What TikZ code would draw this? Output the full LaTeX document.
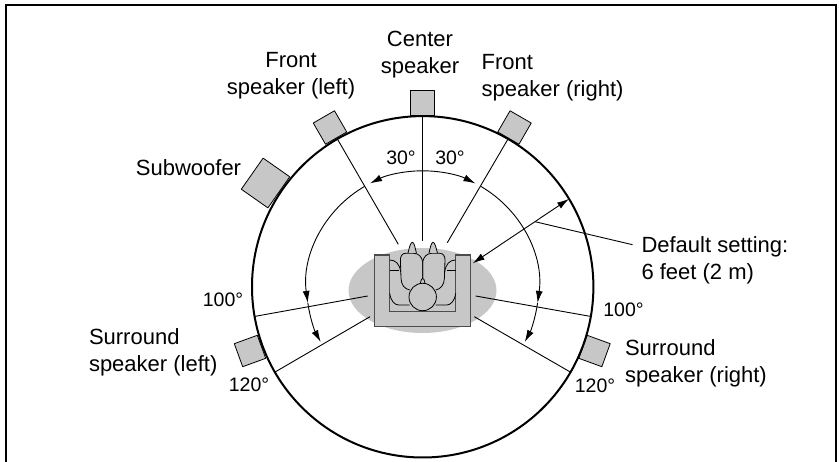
\documentclass[tikz,border=0pt]{standalone}
\usepackage{fontspec}
\setmainfont{Liberation Sans}
\usetikzlibrary{shapes.geometric,arrows.meta}
\definecolor{speakergray}{gray}{0.78}
\definecolor{sofaline}{gray}{0.3}
\tikzset{
  speaker/.style={draw,fill=speakergray,line width=0.8bp,minimum width=24.5bp,minimum height=24.5bp,inner sep=0pt,outer sep=0pt},
  label/.style={inner sep=0pt,outer sep=0pt,align=left,font=\fontsize{22bp}{27bp}\selectfont},
  angle/.style={inner sep=0pt,outer sep=0pt,font=\fontsize{19.5bp}{24bp}\selectfont},
  ray/.style={line width=0.9bp},
  sweep/.style={line width=0.9bp,->},
}
\begin{document}
\begin{tikzpicture}[>={Latex[length=12bp,width=7bp]},line join=bevel]
  \useasboundingbox (0bp,0bp) rectangle (839bp,462bp);
  % Frame
  \coordinate (FrameA) at (6bp,0bp);
  \coordinate (FrameB) at (6bp,457bp);
  \coordinate (FrameC) at (836bp,457bp);
  \coordinate (FrameD) at (836bp,0bp);
  \draw [line width=2.6bp,line join=miter] (FrameA) -- (FrameB) -- (FrameC) -- (FrameD);
  % Node: Area
  \node [ellipse,fill=speakergray,minimum width=148bp,minimum height=85bp,inner sep=0pt] (Area) at (422.5bp,171.5bp) {};
  % Node: Speakers
  \node [speaker] (Center) at (422.5bp,359bp) {};
  \node [speaker,rotate=30] (FrontLeft) at (330bp,334.5bp) {};
  \node [speaker,rotate=-30] (FrontRight) at (514.5bp,334.5bp) {};
  \node [speaker,rotate=55,minimum width=38bp,minimum height=32.5bp] (Subwoofer) at (265.5bp,279bp) {};
  \node [speaker,rotate=110] (SurroundLeft) at (250bp,111bp) {};
  \node [speaker,rotate=-110] (SurroundRight) at (594.5bp,111bp) {};
  % Node: Room
  \node [circle,draw,line width=2bp,minimum size=341.4bp,inner sep=0pt,outer sep=0pt] (Room) at (422.7bp,175.2bp) {};
  % Sofa
  \draw [fill=speakergray,draw=sofaline,line width=1.2bp,line join=miter] (374.3bp,207bp) -- (374.3bp,135.3bp) -- (470.3bp,135.3bp) -- (470.3bp,207bp) -- (455.7bp,207bp) -- (455.7bp,150.7bp) -- (389.3bp,150.7bp) -- (389.3bp,207bp) -- cycle;
  % Person
  \foreach \s in {1,-1} {
  \begin{scope}[shift={(422.7bp,0bp)},xscale=\s,line width=0.8bp]
    \draw (0bp,183.7bp) -- (0bp,200.3bp) .. controls (1bp,205bp) and (4bp,208.7bp) .. (9bp,208.7bp) -- (17bp,208.7bp) .. controls (20.5bp,208.7bp) and (22.3bp,206bp) .. (22.3bp,202bp) -- (21.7bp,183.7bp) .. controls (21.5bp,177bp) and (18bp,173bp) .. (13bp,172bp);
    \draw [fill=speakergray] (6.3bp,209bp) .. controls (7.5bp,214bp) and (8.5bp,219.7bp) .. (10.3bp,219.7bp) .. controls (12.2bp,219.7bp) and (13.5bp,214bp) .. (14.7bp,209bp);
    \draw (33bp,202bp) .. controls (27bp,202bp) and (23bp,198bp) .. (22bp,190bp);
    \draw (33bp,192bp) -- (24bp,192bp);
    \draw (33bp,168.7bp) .. controls (32bp,161bp) and (28bp,157bp) .. (24bp,157bp) -- (13bp,157bp);
  \end{scope}
  }
  \draw [line width=0.8bp] (420.4bp,178.7bp) .. controls (421bp,182bp) and (421.7bp,183.7bp) .. (422.7bp,183.7bp) .. controls (423.7bp,183.7bp) and (424.4bp,182bp) .. (425bp,178.7bp);
  \draw [fill=speakergray,line width=0.8bp] (422.7bp,165bp) circle (13.7bp);
  % Edge: Room -> Listener
  \coordinate (CenterFoot) at (422.7bp,221.3bp);
  \coordinate (FrontLeftFoot) at (398.3bp,217.7bp);
  \coordinate (FrontRightFoot) at (447.3bp,219.3bp);
  \coordinate (LeftHundredFoot) at (367.7bp,166bp);
  \coordinate (RightHundredFoot) at (475.7bp,166bp);
  \coordinate (LeftTwentyFoot) at (370bp,145.3bp);
  \coordinate (RightTwentyFoot) at (474.3bp,145.3bp);
  \draw [ray] (Room.90) -- (CenterFoot);
  \draw [ray] (Room.120) -- (FrontLeftFoot);
  \draw [ray] (Room.60) -- (FrontRightFoot);
  \draw [ray] (Room.190) -- (LeftHundredFoot);
  \draw [ray] (Room.350) -- (RightHundredFoot);
  \draw [ray] (Room.210) -- (LeftTwentyFoot);
  \draw [ray] (Room.330) -- (RightTwentyFoot);
  % Edge: angle sweeps
  \draw [sweep] ([shift={(90:116bp)}]Room.center) arc (90:117:116bp);
  \draw [sweep] ([shift={(90:116bp)}]Room.center) arc (90:63:116bp);
  \draw [sweep] ([shift={(120:116bp)}]Room.center) arc (120:188:116bp);
  \draw [sweep] ([shift={(188:116bp)}]Room.center) arc (188:208.4:116bp);
  \draw [sweep] ([shift={(60:116bp)}]Room.center) arc (60:-8:116bp);
  \draw [sweep] ([shift={(-8:116bp)}]Room.center) arc (-8:-28.4:116bp);
  % Edge: ArrowFoot -> Room
  \coordinate (ArrowFoot) at (472.7bp,198.7bp);
  \draw [line width=0.9bp,<->] (ArrowFoot) -- (Room.31);
  % Node: texts
  \node [label,align=center] (FrontLeftLabel) at (291bp,386bp) {Front\\speaker (left)};
  \node [label,align=center] (CenterLabel) at (420bp,407bp) {Center\\speaker};
  \node [label,anchor=west] (FrontRightLabel) at (481.7bp,384bp) {Front\\speaker (right)};
  \node [label] (SubwooferLabel) at (188.5bp,294.5bp) {Subwoofer};
  \node [label,anchor=west] (SurroundLeftLabel) at (89bp,109.5bp) {Surround\\speaker (left)};
  \node [label,anchor=west] (SurroundRightLabel) at (625bp,98.5bp) {Surround\\speaker (right)};
  \node [label,anchor=west] (DefaultLabel) at (641.5bp,201.5bp) {Default setting:\\6 feet (2 m)};
  \node [angle] (AngleA) at (401bp,304.5bp) {30°};
  \node [angle] (AngleB) at (450bp,304.5bp) {30°};
  \node [angle] (AngleC) at (223bp,162bp) {100°};
  \node [angle] (AngleD) at (623.5bp,152bp) {100°};
  \node [angle] (AngleE) at (249bp,77bp) {120°};
  \node [angle] (AngleF) at (595bp,76bp) {120°};
  % Edge: DefaultFoot -> DefaultLabel
  \coordinate (DefaultFoot) at (535bp,240.3bp);
  \draw [line width=0.9bp] (DefaultFoot) -- ([shift={(-9bp,15.8bp)}]DefaultLabel.west);
\end{tikzpicture}
\end{document}
